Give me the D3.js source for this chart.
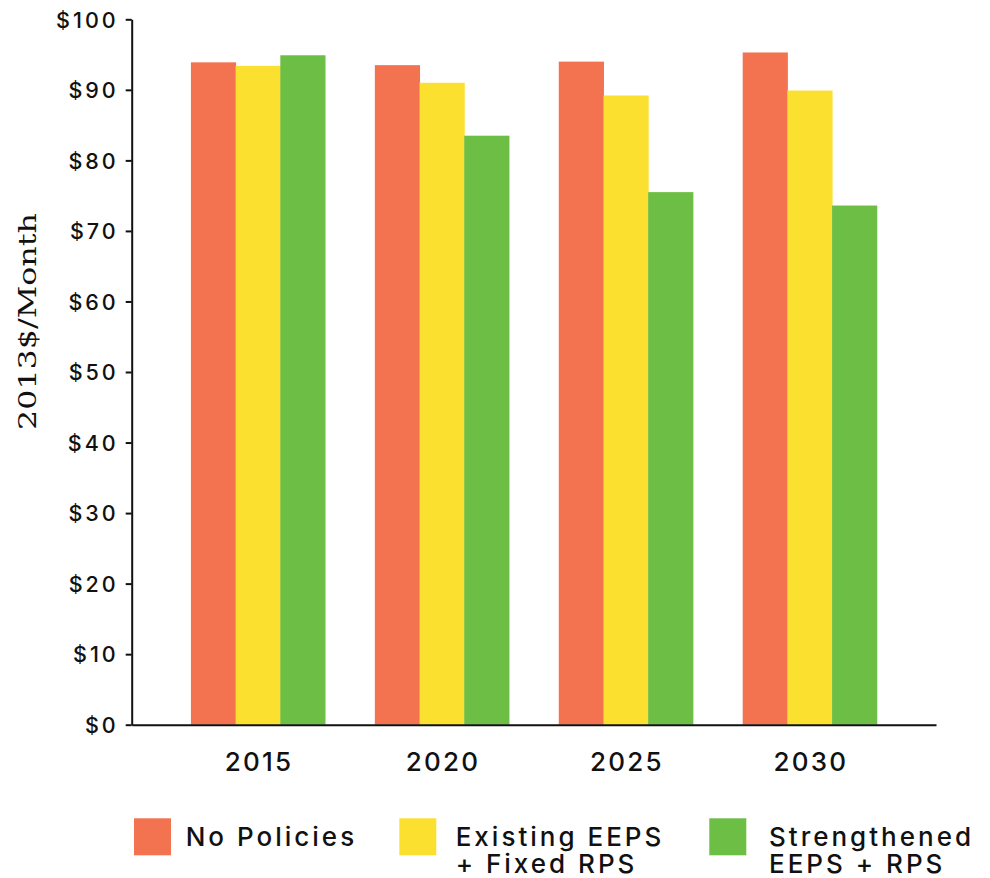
<!DOCTYPE html>
<html>
<head>
<meta charset="utf-8">
<script src="https://cdn.jsdelivr.net/npm/d3@7/dist/d3.min.js"></script>
<style>
  html, body { margin: 0; padding: 0; background: #fff; }
  svg { display: block; }
  .tick text { font-family: Inter, Lato, sans-serif; font-weight: 500; fill: #111; }
</style>
</head>
<body>
<svg id="chart" width="990" height="878"></svg>
<script>
// Average residential electricity bill, 2013 dollars per month
const years = ["2015", "2020", "2025", "2030"];
const seriesNames = ["No Policies", "Existing EEPS + Fixed RPS", "Strengthened EEPS + RPS"];
const noPolicies = [93.9, 93.5, 94.0, 95.3];
const existingEEPS = [93.4, 91.0, 89.2, 89.9];
const strengthenedEEPS = [94.9, 83.5, 75.5, 73.6];
const seriesValues = [noPolicies, existingEEPS, strengthenedEEPS];
const seriesColors = ["#F37350", "#FCE02F", "#6DBE45"];
const legendLines = [["No Policies"], ["Existing EEPS", "+ Fixed RPS"], ["Strengthened", "EEPS + RPS"]];
const yTicks = [0, 10, 20, 30, 40, 50, 60, 70, 80, 90, 100];
const yTitle = "2013$/Month";

const svg = d3.select("#chart");

const plot = { left: 131.7, right: 936, top: 19.3, bottom: 724.7 };

const x = d3.scaleBand()
  .domain(years)
  .range([plot.left, plot.right])
  .paddingInner(0.271)
  .paddingOuter(0.322);

const xInner = d3.scaleBand()
  .domain(d3.range(seriesNames.length))
  .range([0, x.bandwidth()]);

const y = d3.scaleLinear()
  .domain([0, 100])
  .range([plot.bottom, plot.top]);

// Bars
const groups = svg.append("g")
  .selectAll("g")
  .data(years)
  .join("g")
  .attr("transform", d => `translate(${x(d)},0)`);

groups.selectAll("rect")
  .data((yr, i) => seriesValues.map((vals, s) => ({ s, v: vals[i] })))
  .join("rect")
  .attr("x", d => xInner(d.s))
  .attr("width", xInner.bandwidth() + 0.5)
  .attr("y", d => y(d.v))
  .attr("height", d => y(0) - y(d.v))
  .attr("fill", d => seriesColors[d.s]);

// Y axis
const tickSpacing = 3;
const yAxis = svg.append("g")
  .attr("transform", `translate(${plot.left},0)`)
  .call(d3.axisLeft(y)
    .tickValues(yTicks)
    .tickFormat(d => "$" + d)
    .tickSize(6)
    .tickSizeOuter(0)
    .tickPadding(10 - tickSpacing));
yAxis.select(".domain").attr("stroke", "#111").attr("stroke-width", 2);
yAxis.selectAll(".tick line").attr("stroke", "#111").attr("stroke-width", 2);
yAxis.selectAll(".tick text")
  .attr("font-size", 21.5)
  .attr("letter-spacing", tickSpacing)
  .attr("dy", "0.36em");

// X axis
const xAxis = svg.append("g")
  .attr("transform", `translate(0,${plot.bottom})`)
  .call(d3.axisBottom(x).tickSize(0).tickSizeOuter(0));
xAxis.select(".domain").attr("stroke", "#111").attr("stroke-width", 2);
xAxis.selectAll(".tick text")
  .attr("font-size", 26)
  .attr("letter-spacing", 2.2)
  .attr("dx", 1.1)
  .attr("y", 46)
  .attr("dy", 0);

// Y axis title
svg.append("text")
  .attr("transform", `translate(36,321.5) rotate(-90)`)
  .attr("text-anchor", "middle")
  .attr("font-family", "'DejaVu Serif', 'Liberation Serif', serif")
  .attr("font-size", 25)
  .attr("fill", "#111")
  .attr("textLength", 217)
  .attr("lengthAdjust", "spacingAndGlyphs")
  .text(yTitle);

// Legend
const legendX = [134, 399.3, 709.3];
const textGap = [51.7, 56.4, 59.7];
const legend = svg.append("g")
  .selectAll("g")
  .data(seriesNames)
  .join("g")
  .attr("transform", (d, i) => `translate(${legendX[i]},818.3)`);

legend.append("rect")
  .attr("width", 37)
  .attr("height", 37)
  .attr("fill", (d, i) => seriesColors[i]);

legend.each(function (d, i) {
  const t = d3.select(this).append("text")
    .attr("x", textGap[i])
    .attr("y", 27.4)
    .attr("font-family", "Inter, Lato, sans-serif")
    .attr("font-weight", 500)
    .attr("font-size", 26)
    .attr("letter-spacing", 3)
    .attr("fill", "#111");
  legendLines[i].forEach((line, k) => {
    t.append("tspan")
      .attr("x", textGap[i])
      .attr("dy", k === 0 ? 0 : 27.6)
      .text(line);
  });
});
</script>
</body>
</html>
